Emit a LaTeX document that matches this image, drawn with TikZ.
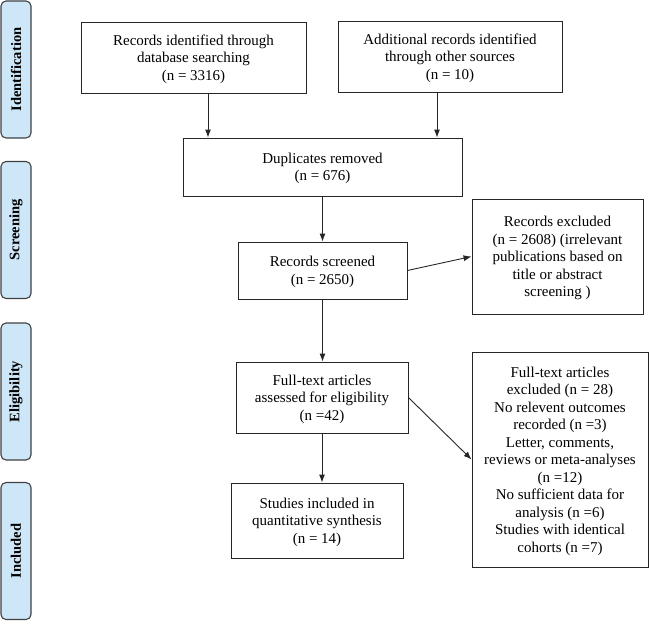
\documentclass[tikz,border=0pt]{standalone}
\usepackage{fontspec}
\setmainfont{Liberation Serif}
\newfontfamily\tnr{Liberation Serif}
\usetikzlibrary{arrows.meta}
\definecolor{sideblue}{RGB}{206,231,248}
\begin{document}
\begin{tikzpicture}[x=1pt,y=-1pt,
  box/.style={draw=black!85, line width=0.9pt, align=center, inner sep=0pt,
    text depth=0pt, font=\tnr\fontsize{15}{17.5}\selectfont},
  side/.style={draw=black!75, fill=sideblue, line width=1.1pt, rounded corners=5pt,
    minimum width=137pt, minimum height=30pt, inner sep=0pt,
    font=\tnr\bfseries\fontsize{14.5}{16}\selectfont, rotate=90},
  arr/.style={-{Latex[length=8pt,width=6pt]}, line width=0.9pt, draw=black!85}]
\useasboundingbox (0,0) rectangle (650,624);

% side labels
\node[side] (sid) at (16,69.5) {Identification};
\node[side] (sscr) at (16,230) {Screening};
\node[side] (selig) at (16,391.5) {Eligibility};
\node[side] (sinc) at (16,551) {Included};

% boxes
\node[box, minimum width=225pt, minimum height=71pt] (id1) at (193.5,57.5)
  {Records identified through\\database searching\\(n = 3316)};
\node[box, minimum width=224pt, minimum height=71pt] (id2) at (450,56.5)
  {Additional records identified\\through other sources\\(n = 10)};
\node[box, minimum width=279pt, minimum height=58pt] (dup) at (322.5,167)
  {Duplicates removed\\(n = 676)};
\node[box, minimum width=169pt, minimum height=57pt] (scr) at (322.5,270.5)
  {Records screened\\(n = 2650)};
\node[box, minimum width=171pt, minimum height=115pt] (exc1) at (557.5,256.5)
  {Records excluded\\(n = 2608) (irrelevant\\publications based on\\title or abstract\\screening )};
\node[box, minimum width=172pt, minimum height=71pt] (fta) at (322,397.5)
  {Full-text articles\\assessed for eligibility\\(n =42)};
\node[box, minimum width=176pt, minimum height=215pt] (exc2) at (560,459.5)
  {Full-text articles\\excluded (n = 28)\\No relevent outcomes\\recorded (n =3)\\Letter, comments,\\reviews or meta-analyses\\(n =12)\\No sufficient data for\\analysis (n =6)\\Studies with identical\\cohorts (n =7)};
\node[box, minimum width=172pt, minimum height=75pt] (inc) at (317,520.5)
  {Studies included in\\quantitative synthesis\\(n = 14)};

% connectors
\draw[arr] ([xshift=14.5pt]id1.south) -- ([xshift=14.5pt]id1.south |- dup.north);
\draw[arr] ([xshift=-13pt]id2.south) -- ([xshift=-13pt]id2.south |- dup.north);
\draw[arr] (dup.south) -- (dup.south |- scr.north);
\draw[arr] (scr.south) -- (scr.south |- fta.north);
\draw[arr] (fta.south) -- (fta.south |- inc.north);
\draw[arr] (scr.east) -- (exc1.west);
\draw[arr] (fta.east) -- (exc2.west);
\end{tikzpicture}
\end{document}
